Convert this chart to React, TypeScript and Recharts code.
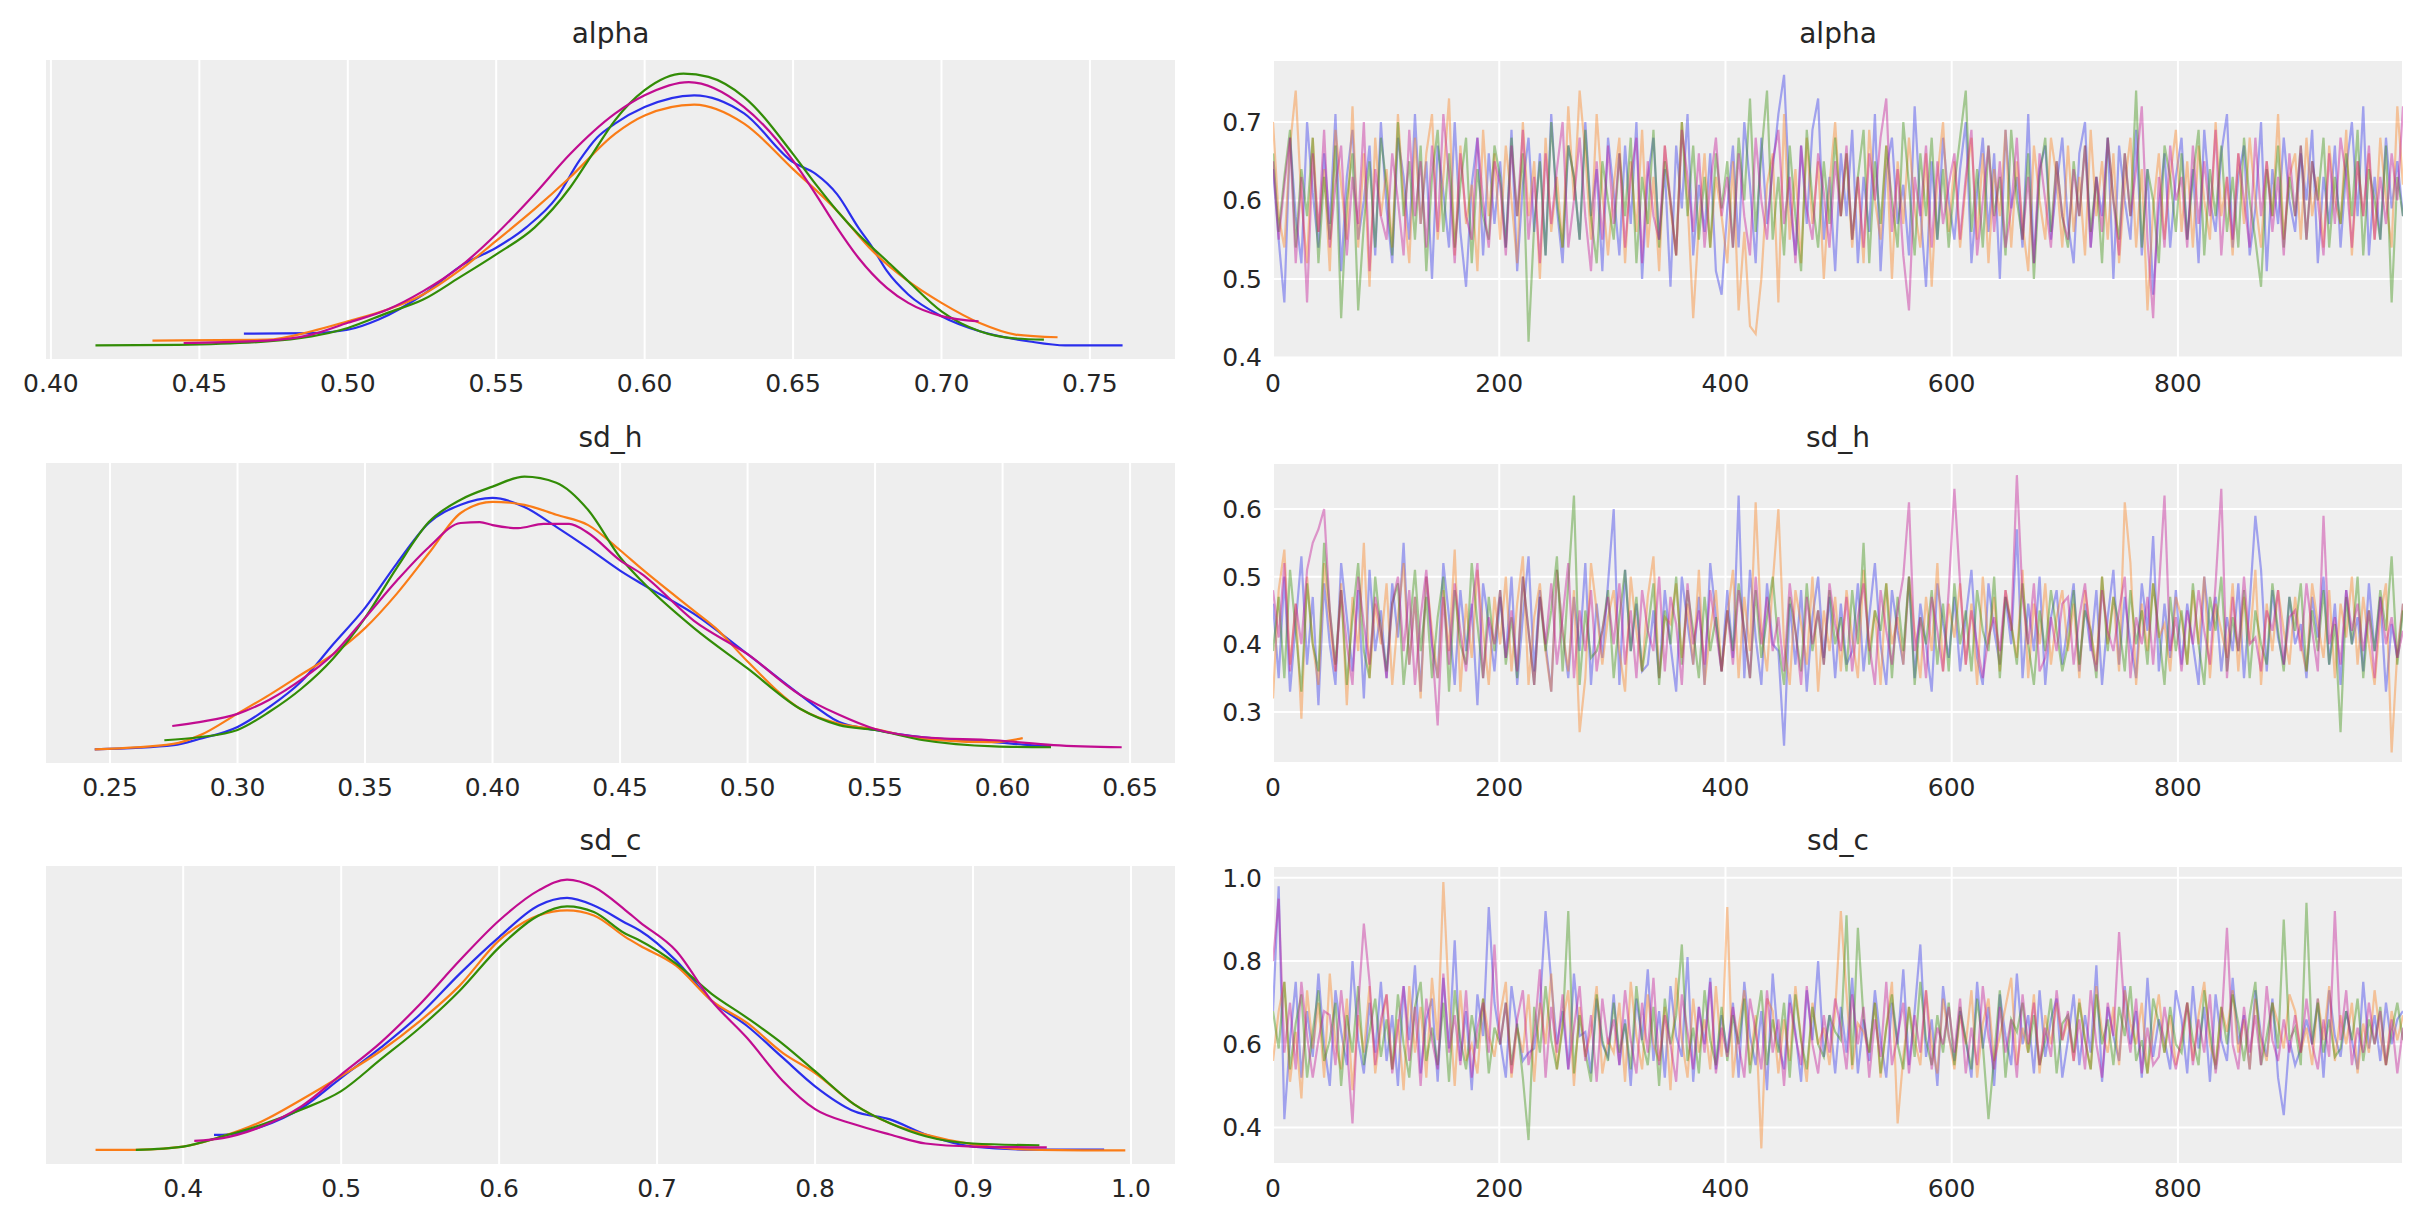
import React from "react";
import { LineChart, Line, XAxis, YAxis, CartesianGrid } from "recharts";

const COLORS = ["#2a2eec", "#fa7c17", "#328c06", "#c10c90"];
const FONT = "'DejaVu Sans', sans-serif";
const TEXT = "#262626";
const BG = "#eeeeee";

// KDE curves, [value, density]
const alphaKdeBlue = [[0.465,0.39],[0.4878,0.41],[0.50,0.52],[0.5104,0.86],[0.5254,1.69],[0.5389,2.69],[0.55,3.24],[0.56,3.91],[0.5704,4.91],[0.578,6.13],[0.584,6.9],[0.59,7.36],[0.60,7.91],[0.6167,8.3],[0.6335,7.7],[0.65,6.08],[0.6576,5.69],[0.6648,5.02],[0.672,3.91],[0.6768,3.24],[0.6816,2.47],[0.6888,1.69],[0.70,0.97],[0.7129,0.47],[0.7297,0.13],[0.7417,0.0],[0.761,0.0]];
const alphaKdeOrange = [[0.4342,0.16],[0.4728,0.19],[0.4878,0.47],[0.50,0.8],[0.5134,1.19],[0.5254,1.69],[0.5374,2.47],[0.55,3.47],[0.5629,4.52],[0.5749,5.58],[0.59,7.02],[0.60,7.63],[0.6167,7.99],[0.6335,7.36],[0.65,5.85],[0.6648,4.47],[0.6768,3.13],[0.6888,2.13],[0.70,1.41],[0.7129,0.74],[0.7249,0.36],[0.7391,0.27]];
const alphaKdeGreen = [[0.415,0.0],[0.4428,0.02],[0.4728,0.13],[0.50,0.58],[0.5134,1.08],[0.5254,1.52],[0.5374,2.24],[0.55,3.02],[0.5629,3.91],[0.5749,5.24],[0.5824,6.35],[0.59,7.47],[0.60,8.47],[0.6131,9.02],[0.6215,8.91],[0.6335,8.24],[0.65,6.35],[0.6576,5.35],[0.6648,4.47],[0.672,3.69],[0.6816,2.8],[0.6888,2.13],[0.70,1.13],[0.7129,0.47],[0.7237,0.24],[0.7345,0.19]];
const alphaKdeMagenta = [[0.4447,0.08],[0.4728,0.16],[0.4878,0.36],[0.50,0.75],[0.5134,1.19],[0.5254,1.8],[0.5374,2.58],[0.55,3.69],[0.5629,5.02],[0.5749,6.35],[0.59,7.69],[0.60,8.3],[0.6149,8.74],[0.6335,7.91],[0.65,6.13],[0.6576,5.02],[0.6648,3.91],[0.672,2.91],[0.6816,1.91],[0.6888,1.41],[0.70,0.97],[0.7125,0.8]];

const sdhKdeBlue = [[0.244,0.03],[0.275,0.17],[0.285,0.37],[0.30,0.77],[0.3125,1.43],[0.325,2.27],[0.3375,3.5],[0.35,4.7],[0.3625,6.17],[0.375,7.5],[0.3875,8.1],[0.40,8.33],[0.4125,8.03],[0.425,7.37],[0.4375,6.67],[0.45,5.93],[0.4583,5.5],[0.479,4.5],[0.50,3.17],[0.5206,1.83],[0.5359,0.93],[0.55,0.67],[0.569,0.43],[0.5968,0.27],[0.6107,0.17],[0.619,0.13]];
const sdhKdeOrange = [[0.244,0.03],[0.2748,0.21],[0.2854,0.5],[0.30,1.21],[0.3125,1.83],[0.325,2.5],[0.3375,3.17],[0.35,4.03],[0.3625,5.17],[0.375,6.5],[0.3875,7.83],[0.40,8.2],[0.4125,8.1],[0.425,7.77],[0.4375,7.43],[0.45,6.6],[0.4583,6.0],[0.479,4.6],[0.4875,4.03],[0.50,2.93],[0.5206,1.37],[0.5359,0.87],[0.55,0.7],[0.569,0.37],[0.5968,0.27],[0.6079,0.4]];
const sdhKdeGreen = [[0.2713,0.33],[0.285,0.43],[0.30,0.67],[0.3125,1.27],[0.325,2.03],[0.3375,3.03],[0.35,4.37],[0.3625,6.03],[0.375,7.53],[0.3875,8.27],[0.40,8.7],[0.4125,9.03],[0.425,8.83],[0.4375,7.93],[0.45,6.37],[0.4583,5.6],[0.479,4.03],[0.50,2.7],[0.5206,1.37],[0.5359,0.83],[0.55,0.67],[0.569,0.33],[0.5968,0.13],[0.619,0.1]];
const sdhKdeMagenta = [[0.2744,0.8],[0.285,0.93],[0.30,1.2],[0.3125,1.67],[0.325,2.33],[0.3375,3.17],[0.35,4.37],[0.3625,5.6],[0.375,6.7],[0.3875,7.5],[0.395,7.53],[0.40,7.43],[0.41,7.33],[0.42,7.47],[0.43,7.47],[0.4375,7.17],[0.45,6.27],[0.4583,5.83],[0.479,4.27],[0.50,3.17],[0.5206,1.83],[0.5359,1.17],[0.55,0.7],[0.569,0.43],[0.5968,0.33],[0.62,0.17],[0.6467,0.1]];

const sdcKdeBlue = [[0.4195,0.52],[0.425,0.52],[0.45,0.8],[0.475,1.41],[0.50,2.41],[0.525,3.41],[0.55,4.52],[0.575,5.86],[0.60,7.08],[0.625,8.13],[0.643,8.38],[0.66,8.13],[0.68,7.55],[0.689,7.3],[0.712,6.3],[0.7345,4.97],[0.757,4.13],[0.7797,3.07],[0.80,2.13],[0.8248,1.3],[0.8474,1.03],[0.87,0.53],[0.90,0.13],[0.9377,0.03],[0.983,0.03]];
const sdcKdeOrange = [[0.3445,0.02],[0.37,0.02],[0.40,0.13],[0.425,0.47],[0.45,0.97],[0.475,1.69],[0.50,2.47],[0.525,3.3],[0.55,4.3],[0.575,5.47],[0.60,6.97],[0.625,7.8],[0.643,7.97],[0.66,7.8],[0.68,7.08],[0.689,6.8],[0.712,6.13],[0.7345,4.97],[0.757,4.23],[0.7797,3.23],[0.80,2.57],[0.8248,1.53],[0.8474,0.9],[0.87,0.53],[0.90,0.2],[0.9377,0.03],[0.9964,0.0]];
const sdcKdeGreen = [[0.37,0.02],[0.40,0.13],[0.425,0.47],[0.45,0.86],[0.475,1.36],[0.50,1.97],[0.525,3.02],[0.55,4.08],[0.575,5.3],[0.60,6.74],[0.625,7.8],[0.643,8.1],[0.66,7.91],[0.68,7.19],[0.689,6.97],[0.712,6.2],[0.7345,5.2],[0.757,4.4],[0.7797,3.53],[0.80,2.63],[0.8248,1.53],[0.8474,0.9],[0.87,0.47],[0.90,0.23],[0.942,0.17]];
const sdcKdeMagenta = [[0.407,0.32],[0.425,0.41],[0.45,0.8],[0.475,1.47],[0.50,2.52],[0.525,3.58],[0.55,4.86],[0.575,6.3],[0.60,7.63],[0.625,8.63],[0.643,8.99],[0.66,8.74],[0.68,7.97],[0.689,7.58],[0.712,6.63],[0.7345,4.97],[0.757,3.73],[0.7797,2.3],[0.80,1.37],[0.8248,0.87],[0.8474,0.53],[0.87,0.23],[0.90,0.13],[0.9467,0.1]];

// traces, values in hundredths, one value every ~5 draws (20 per row = 100 draws)
const alphaTraceBlue = [
  64,55,47,68,58,52,70,61,54,66,57,71,51,63,69,55,60,67,53,70,
  59,52,68,63,55,71,57,65,50,67,61,54,70,56,49,62,68,53,66,57,
  65,54,69,51,62,68,56,66,53,71,59,52,67,63,55,70,58,64,51,68,
  61,53,67,57,70,50,63,68,55,64,49,67,59,71,53,62,56,66,51,48,
  59,67,54,70,62,52,68,57,64,71,76,60,53,67,57,69,73,55,63,51,
  66,58,69,52,63,56,71,51,64,68,57,62,53,72,59,49,65,55,68,60,
  55,64,70,52,61,68,56,66,50,69,59,63,54,71,52,64,67,55,62,68,
  57,52,66,70,54,63,58,68,50,67,60,55,69,53,64,48,59,66,54,63,
  68,55,64,52,69,60,56,66,71,54,63,67,53,59,70,51,64,57,68,60,
  56,66,60,69,52,63,57,67,54,64,70,58,72,53,63,55,68,59,65,58];
const alphaTraceOrange = [
  70,58,54,67,74,60,52,68,56,64,51,69,62,55,72,54,66,49,68,58,
  64,54,71,60,52,68,57,66,71,55,63,73,53,67,57,62,51,69,58,66,
  55,67,60,52,70,58,65,50,68,56,63,54,72,60,74,66,55,71,61,53,
  62,68,52,65,56,69,54,63,51,67,59,53,70,60,45,57,66,54,63,58,
  52,65,46,56,44,43,50,62,66,47,71,55,64,52,68,57,65,50,62,70,
  58,66,54,63,52,69,60,55,67,50,65,57,68,59,54,66,49,63,70,56,
  65,54,62,68,55,66,52,64,58,69,54,65,57,51,67,60,55,68,63,54,
  67,56,63,53,69,58,65,55,66,52,62,68,54,64,46,59,66,55,63,69,
  56,65,54,67,60,55,70,58,63,53,66,57,68,60,54,65,58,71,55,63,
  66,55,68,58,63,54,67,60,57,69,53,65,58,66,55,68,60,54,72,62];
const alphaTraceGreen = [
  66,56,63,69,54,64,58,68,52,63,55,67,45,60,66,46,57,65,54,68,
  62,53,70,58,65,55,67,51,63,69,56,66,54,62,68,52,64,58,55,67,
  63,54,68,58,66,42,57,65,53,70,60,54,67,63,55,69,58,52,65,60,
  55,66,58,68,52,63,57,69,54,65,60,53,70,58,67,55,63,54,66,59,
  65,54,68,60,73,56,66,74,55,63,53,67,58,51,69,60,54,65,57,68,
  58,66,55,63,69,52,65,57,67,60,54,70,62,53,66,58,68,55,64,54,
  62,68,74,56,64,54,67,58,63,53,69,60,55,66,50,63,68,56,65,58,
  54,65,58,67,56,63,52,68,60,55,66,58,74,54,64,60,52,67,63,56,
  66,55,63,69,53,64,58,67,56,63,54,68,60,55,49,64,58,67,54,63,
  58,67,55,65,60,68,54,63,57,66,58,69,53,64,60,55,67,47,63,58];
const alphaTraceMagenta = [
  65,55,62,68,52,63,47,66,56,69,54,62,67,53,63,57,70,51,64,58,
  55,66,60,53,69,58,65,54,67,56,71,63,52,66,58,55,68,60,54,65,
  62,53,67,58,69,55,63,52,66,57,64,70,54,60,68,58,51,65,55,67,
  57,66,54,63,68,52,65,58,55,67,60,53,69,63,56,66,54,62,68,58,
  63,54,66,58,53,68,60,55,65,69,57,63,52,67,59,55,66,61,54,65,
  58,67,55,63,54,66,60,68,73,56,64,53,46,63,58,67,54,65,57,62,
  66,55,63,69,53,60,67,56,65,54,59,68,55,63,52,66,60,54,65,58,
  55,64,58,67,54,63,56,68,60,53,66,58,64,72,55,45,63,54,67,60,
  63,54,67,57,65,58,69,53,63,55,66,60,54,68,58,65,56,63,53,66,
  58,67,55,65,60,53,66,57,68,63,54,65,58,67,55,63,57,66,60,72];

const sdhTraceBlue = [
  46,35,50,33,43,53,37,47,31,49,40,34,52,44,36,48,32,51,39,45,
  35,49,41,55,37,47,33,50,40,35,52,44,34,48,39,46,31,49,43,36,
  47,38,50,34,44,53,36,48,40,33,51,42,35,47,39,52,34,46,38,49,
  60,34,51,39,46,36,37,45,35,48,40,33,50,43,37,47,34,52,44,36,
  48,38,62,35,51,41,34,49,40,39,25,46,37,48,33,44,50,38,47,35,
  46,37,39,49,36,44,52,40,34,48,42,37,50,35,46,40,33,49,43,38,
  47,36,44,51,38,34,49,42,37,47,40,57,35,46,39,50,34,44,48,37,
  43,49,36,46,39,48,34,44,51,37,47,40,35,49,42,56,36,46,38,48,
  37,46,40,34,50,42,47,36,44,39,49,35,46,59,51,36,48,41,37,47,
  40,43,35,47,41,50,37,46,34,48,40,44,36,49,39,47,33,43,38,46];
const sdhTraceOrange = [
  32,48,54,37,46,29,50,40,34,52,43,36,49,31,47,39,55,35,46,40,
  49,34,44,52,37,47,32,50,42,35,48,39,54,33,46,38,51,42,34,47,
  40,50,36,46,53,34,44,49,39,33,51,42,36,48,27,35,52,45,37,44,
  48,39,33,50,42,36,47,53,35,44,43,49,38,46,37,51,34,42,48,36,
  44,51,35,47,39,61,42,36,49,60,40,34,48,43,37,50,33,45,39,47,
  36,48,41,35,51,39,45,34,49,40,44,37,50,42,35,47,39,52,36,46,
  41,49,37,46,34,50,40,47,36,48,43,38,51,35,46,40,49,37,44,48,
  39,46,35,48,42,37,50,40,47,36,61,52,34,46,39,49,41,43,36,47,
  44,37,48,40,50,35,46,42,38,49,36,47,40,51,34,46,39,48,42,37,
  47,40,36,49,43,38,48,35,46,41,50,37,47,40,34,44,49,24,39,46];
const sdhTraceGreen = [
  39,47,35,51,42,33,49,40,36,55,45,37,48,34,44,52,39,35,50,42,
  36,46,49,34,42,51,39,47,35,44,50,33,48,40,37,52,43,35,47,39,
  48,37,44,35,50,42,34,47,39,45,53,36,49,62,34,45,38,39,42,48,
  35,44,51,39,47,36,42,49,34,45,40,50,37,48,42,35,47,39,44,36,
  45,39,49,42,35,48,38,44,50,40,34,47,42,36,49,39,45,37,48,40,
  44,36,48,40,55,37,45,42,49,35,47,39,50,34,44,40,48,37,46,36,
  49,40,45,36,48,42,39,50,35,47,43,37,49,40,34,45,39,48,42,36,
  40,48,37,45,42,35,50,39,47,43,36,48,40,45,37,49,42,34,47,39,
  45,37,49,40,34,47,42,50,36,44,39,48,35,45,40,37,49,42,36,47,
  42,49,36,45,39,48,37,43,27,47,40,50,35,45,39,48,42,53,37,45];
const sdhTraceMagenta = [
  48,41,52,36,46,40,51,55,57,60,45,36,48,40,34,50,43,37,47,42,
  35,46,50,39,48,34,44,51,40,28,47,37,49,42,36,45,52,35,44,40,
  48,38,45,36,50,42,34,47,40,49,37,44,52,35,45,39,48,36,42,47,
  40,49,37,45,35,48,42,39,50,36,47,43,34,49,40,45,37,48,42,36,
  45,37,48,42,35,50,40,47,39,44,36,49,42,34,47,40,45,37,49,43,
  39,47,36,44,49,40,34,48,42,37,45,50,61,39,44,35,47,42,36,48,
  63,49,37,45,40,35,41,44,39,48,42,65,47,40,49,36,38,44,39,46,
  47,37,44,49,40,36,48,42,39,45,50,35,44,40,47,37,48,62,39,44,
  36,45,40,48,42,37,49,63,35,47,39,50,40,41,36,45,42,48,37,44,
  45,39,49,42,36,59,40,44,37,48,42,46,39,45,35,47,40,44,38,42];

const sdcTraceBlue = [
  68,98,42,61,75,52,68,57,77,60,50,73,63,55,80,61,53,70,58,75,
  56,67,50,74,61,79,53,66,71,51,76,59,85,56,68,49,72,62,93,70,
  61,52,74,64,56,58,59,69,92,75,60,68,54,77,62,63,53,71,60,57,
  72,55,66,50,71,61,78,56,68,52,74,62,57,81,51,69,60,76,54,67,
  58,70,52,75,62,55,68,49,77,60,54,72,63,51,73,61,80,57,67,53,
  69,58,76,53,66,56,73,61,52,70,60,78,55,68,84,57,66,50,74,62,
  56,68,61,52,75,59,69,50,72,62,55,77,60,67,53,73,57,66,71,52,
  61,72,55,67,58,79,51,69,62,56,74,60,68,52,76,57,66,61,54,73,
  66,53,74,59,69,51,72,61,56,76,60,67,54,73,62,57,71,52,43,61,
  55,59,66,60,71,52,73,62,57,68,61,54,75,59,67,56,70,60,66,68];
const sdcTraceOrange = [
  56,68,75,51,63,47,73,59,70,52,77,60,54,71,49,67,58,74,53,64,
  72,54,66,49,74,58,69,52,76,61,99,70,50,73,56,60,53,71,62,57,
  67,75,52,64,58,72,51,70,60,77,54,65,73,50,69,57,63,74,53,61,
  58,70,51,75,62,54,72,60,56,69,49,76,61,52,71,58,66,54,74,57,
  93,52,64,73,55,67,35,71,68,53,66,56,74,61,51,70,60,64,55,68,
  92,72,54,65,63,58,70,52,64,75,41,57,69,61,55,73,60,53,71,62,
  54,67,60,73,52,65,71,56,62,69,76,55,64,58,72,53,67,60,70,61,
  66,56,71,61,54,74,63,58,69,55,73,65,60,70,53,63,72,58,67,55,
  61,70,56,67,75,60,55,69,63,73,58,66,54,71,61,56,70,65,59,72,
  68,58,64,55,71,61,74,56,67,60,70,53,65,58,73,62,55,68,61,67];
const sdcTraceGreen = [
  68,59,75,54,65,72,52,63,73,56,61,70,50,67,58,74,55,63,71,57,
  66,54,72,60,52,69,75,56,64,55,70,51,73,61,54,67,59,71,53,64,
  60,70,55,65,52,37,69,58,74,61,54,64,92,53,67,58,51,72,61,56,
  70,58,65,54,74,61,55,69,50,71,60,67,84,56,64,53,73,61,55,69,
  56,67,60,71,53,64,73,55,66,58,70,52,72,61,54,69,60,57,67,63,
  61,91,55,88,66,58,70,53,64,72,60,54,69,57,75,61,55,67,58,70,
  55,69,61,54,71,60,42,57,73,52,66,63,70,58,67,55,61,71,53,65,
  67,58,70,61,54,72,60,66,55,69,62,74,56,61,53,71,65,58,69,60,
  58,70,61,55,73,63,54,69,60,72,65,56,67,75,55,62,70,59,90,61,
  64,55,94,60,70,58,66,57,59,68,61,71,56,66,60,69,55,63,70,61];
const sdcTraceMagenta = [
  80,95,58,70,54,75,62,52,61,68,67,55,73,60,41,69,89,75,55,66,
  72,53,64,74,56,69,50,71,61,54,77,58,67,55,73,52,64,70,58,84,
  60,70,53,66,73,55,62,78,52,69,58,72,54,64,74,56,67,51,71,60,
  66,55,73,61,53,70,58,76,55,67,60,51,72,63,54,69,58,75,53,64,
  57,69,60,52,71,63,54,73,58,66,50,70,62,55,74,60,53,67,58,71,
  64,54,72,60,69,52,66,57,75,55,62,70,53,67,58,73,54,64,60,69,
  58,71,53,64,55,74,62,54,69,58,66,52,72,60,70,55,64,57,73,61,
  68,56,66,54,73,60,52,70,62,87,67,58,71,53,64,55,57,69,60,54,
  62,70,55,66,58,72,53,64,88,60,54,69,58,67,55,74,61,56,66,58,
  67,58,71,60,54,66,57,92,61,73,55,64,58,70,60,68,55,66,53,64];

const drawTicks = [0, 200, 400, 600, 800];
const lastDraw = 999;

const rows = [
  {
    title: "alpha", top: 60, height: 299, titleY: 43,
    kde: [alphaKdeBlue, alphaKdeOrange, alphaKdeGreen, alphaKdeMagenta],
    trace: [alphaTraceBlue, alphaTraceOrange, alphaTraceGreen, alphaTraceMagenta],
    domain: [0.398, 0.779],
    kdeTicks: [0.4, 0.45, 0.5, 0.55, 0.6, 0.65, 0.7, 0.75], kdeDigits: 2,
    traceTicks: [0.4, 0.5, 0.6, 0.7],
  },
  {
    title: "sd_h", top: 463, height: 300, titleY: 447,
    kde: [sdhKdeBlue, sdhKdeOrange, sdhKdeGreen, sdhKdeMagenta],
    trace: [sdhTraceBlue, sdhTraceOrange, sdhTraceGreen, sdhTraceMagenta],
    domain: [0.2245, 0.668],
    kdeTicks: [0.25, 0.3, 0.35, 0.4, 0.45, 0.5, 0.55, 0.6, 0.65], kdeDigits: 2,
    traceTicks: [0.3, 0.4, 0.5, 0.6],
  },
  {
    title: "sd_c", top: 866, height: 298, titleY: 850,
    kde: [sdcKdeBlue, sdcKdeOrange, sdcKdeGreen, sdcKdeMagenta],
    trace: [sdcTraceBlue, sdcTraceOrange, sdcTraceGreen, sdcTraceMagenta],
    domain: [0.3125, 1.0285],
    kdeTicks: [0.4, 0.5, 0.6, 0.7, 0.8, 0.9, 1.0], kdeDigits: 1,
    traceTicks: [0.4, 0.6, 0.8, 1.0],
  },
];

const LEFT_X = 45, LEFT_W = 1131;
const RIGHT_X = 1273, RIGHT_W = 1130;
const PAD_TOP = 14;
const tickStyle = { fontSize: 25, fill: TEXT, fontFamily: FONT };

function KdePanel({ row }) {
  const ds = row.kde.flat().map((p) => p[1]);
  const lo = Math.min(...ds);
  const hi = Math.max(...ds);
  const pad = (hi - lo) * 0.05;
  return (
    <div style={{ position: "absolute", left: 0, top: row.top - PAD_TOP }}>
      <LineChart width={LEFT_X + LEFT_W + 14} height={row.height + 50 + PAD_TOP}
        margin={{ top: PAD_TOP, right: 14, bottom: 0, left: LEFT_X }}>
        <CartesianGrid fill={BG} fillOpacity={1} stroke="#ffffff" strokeWidth={2} horizontal={false} />
        <XAxis type="number" dataKey="x" domain={row.domain} ticks={row.kdeTicks} allowDataOverflow
          interval={0} axisLine={false} tickLine={false} tickSize={0} tickMargin={15} height={50}
          tick={tickStyle} tickFormatter={(v) => v.toFixed(row.kdeDigits)} />
        <YAxis type="number" domain={[lo - pad, hi + pad]} allowDataOverflow hide />
        {row.kde.map((c, i) => (
          <Line key={i} data={c.map(([x, d]) => ({ x, d }))} dataKey="d" type="monotone"
            stroke={COLORS[i]} strokeWidth={2.2} dot={false} activeDot={false} isAnimationActive={false} />
        ))}
      </LineChart>
    </div>
  );
}

function TracePanel({ row }) {
  const n = row.trace[0].length;
  const step = lastDraw / (n - 1);
  const data = row.trace[0].map((_, i) => ({
    draw: i * step,
    c0: row.trace[0][i] / 100,
    c1: row.trace[1][i] / 100,
    c2: row.trace[2][i] / 100,
    c3: row.trace[3][i] / 100,
  }));
  const yw = 83;
  return (
    <div style={{ position: "absolute", left: RIGHT_X - yw, top: row.top - PAD_TOP }}>
      <LineChart width={yw + RIGHT_W + 20} height={row.height + 50 + PAD_TOP} data={data}
        margin={{ top: PAD_TOP, right: 20, bottom: 0, left: 0 }}>
        <CartesianGrid fill={BG} fillOpacity={1} stroke="#ffffff" strokeWidth={2} />
        <XAxis type="number" dataKey="draw" domain={[0, lastDraw]} ticks={drawTicks} allowDataOverflow
          interval={0} axisLine={false} tickLine={false} tickSize={0} tickMargin={15} height={50}
          tick={tickStyle} />
        <YAxis type="number" domain={row.domain} ticks={row.traceTicks} allowDataOverflow
          interval={0} axisLine={false} tickLine={false} tickSize={0} tickMargin={11} width={yw}
          tick={tickStyle} tickFormatter={(v) => v.toFixed(1)} />
        {[0, 1, 2, 3].map((i) => (
          <Line key={i} dataKey={"c" + i} type="linear" stroke={COLORS[i]} strokeOpacity={0.4}
            strokeWidth={2.2} dot={false} activeDot={false} isAnimationActive={false} />
        ))}
      </LineChart>
    </div>
  );
}

export default function App() {
  return (
    <div style={{ position: "absolute", left: 0, top: 0, width: 2423, height: 1223, background: "#ffffff" }}>
      {rows.map((r) => (
        <React.Fragment key={r.title}>
          <KdePanel row={r} />
          <TracePanel row={r} />
        </React.Fragment>
      ))}
      <svg width={2423} height={1223} style={{ position: "absolute", left: 0, top: 0, pointerEvents: "none" }}>
        {rows.map((r) => (
          <React.Fragment key={r.title}>
            <text x={LEFT_X + LEFT_W / 2} y={r.titleY} textAnchor="middle" fontSize={28} fill={TEXT} fontFamily={FONT}>{r.title}</text>
            <text x={RIGHT_X + RIGHT_W / 2} y={r.titleY} textAnchor="middle" fontSize={28} fill={TEXT} fontFamily={FONT}>{r.title}</text>
          </React.Fragment>
        ))}
      </svg>
    </div>
  );
}
